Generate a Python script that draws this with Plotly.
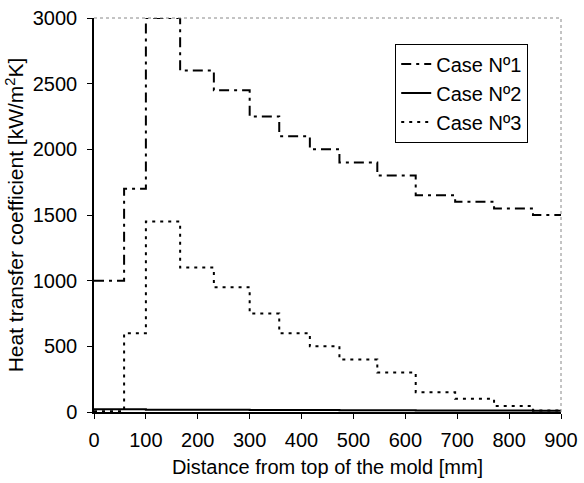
import plotly.graph_objects as go

# Step boundaries along the mold [mm]
edges = [0, 58, 100, 166, 231, 300, 357, 416, 473, 546, 620, 696, 771, 846, 900]
# Heat transfer coefficient per segment [kW/m2K]
case1 = [1000, 1700, 3000, 2600, 2450, 2250, 2100, 2000, 1900, 1800, 1650, 1600, 1550, 1500]
case2 = [20, 20, 18, 18, 17, 16, 15, 15, 14, 13, 12, 12, 11, 10]
case3 = [5, 600, 1450, 1100, 950, 750, 600, 500, 400, 300, 150, 100, 45, 12]

names = ["Case Nº1", "Case Nº2", "Case Nº3"]
series = [case1, case2, case3]
dashes = ["10px,5px,3px,5px", "solid", "3px,5px"]

fig = go.Figure()
for nm, vals, d in zip(names, series, dashes):
    fig.add_trace(go.Scatter(
        x=edges, y=vals + [vals[-1]], mode="lines", name=nm,
        line=dict(color="black", width=2, dash=d, shape="hv"),
    ))

font = dict(family="Liberation Sans, Arial, sans-serif", color="black")
fig.update_layout(
    width=584, height=483,
    margin=dict(l=94, r=23, t=18, b=71),
    paper_bgcolor="white", plot_bgcolor="white",
    font=dict(size=20, **font),
    showlegend=True,
    legend=dict(x=0.645, y=0.935, xanchor="left", yanchor="top",
                bordercolor="black", borderwidth=1, bgcolor="white",
                font=dict(size=20, **font), tracegroupgap=0,
                itemwidth=30),
    xaxis=dict(range=[0, 900], tickmode="linear", tick0=0, dtick=100,
               ticks="outside", ticklen=5, tickcolor="black",
               ticklabelstandoff=4, automargin=False,
               showline=True, linecolor="black", linewidth=1.5,
               showgrid=False, zeroline=False,
               title=dict(text="Distance from top of the mold [mm]", font=dict(size=20, **font), standoff=10),
               tickfont=dict(size=20, **font)),
    yaxis=dict(range=[0, 3000], tickmode="linear", tick0=0, dtick=500,
               ticks="outside", ticklen=5, tickcolor="black",
               ticklabelstandoff=6, automargin=False,
               showline=True, linecolor="black", linewidth=1.5,
               showgrid=False, zeroline=False,
               title=dict(text="Heat transfer coefficient [kW/m<sup>2</sup>K]", font=dict(size=21, **font), standoff=3),
               tickfont=dict(size=20, **font)),
    shapes=[
        dict(type="line", xref="paper", yref="paper", x0=0, x1=1, y0=1, y1=1,
             line=dict(color="#888", width=1, dash="dot")),
        dict(type="line", xref="paper", yref="paper", x0=1, x1=1, y0=0, y1=1,
             line=dict(color="#888", width=1, dash="dot")),
    ],
)

fig.write_html("out.html")
